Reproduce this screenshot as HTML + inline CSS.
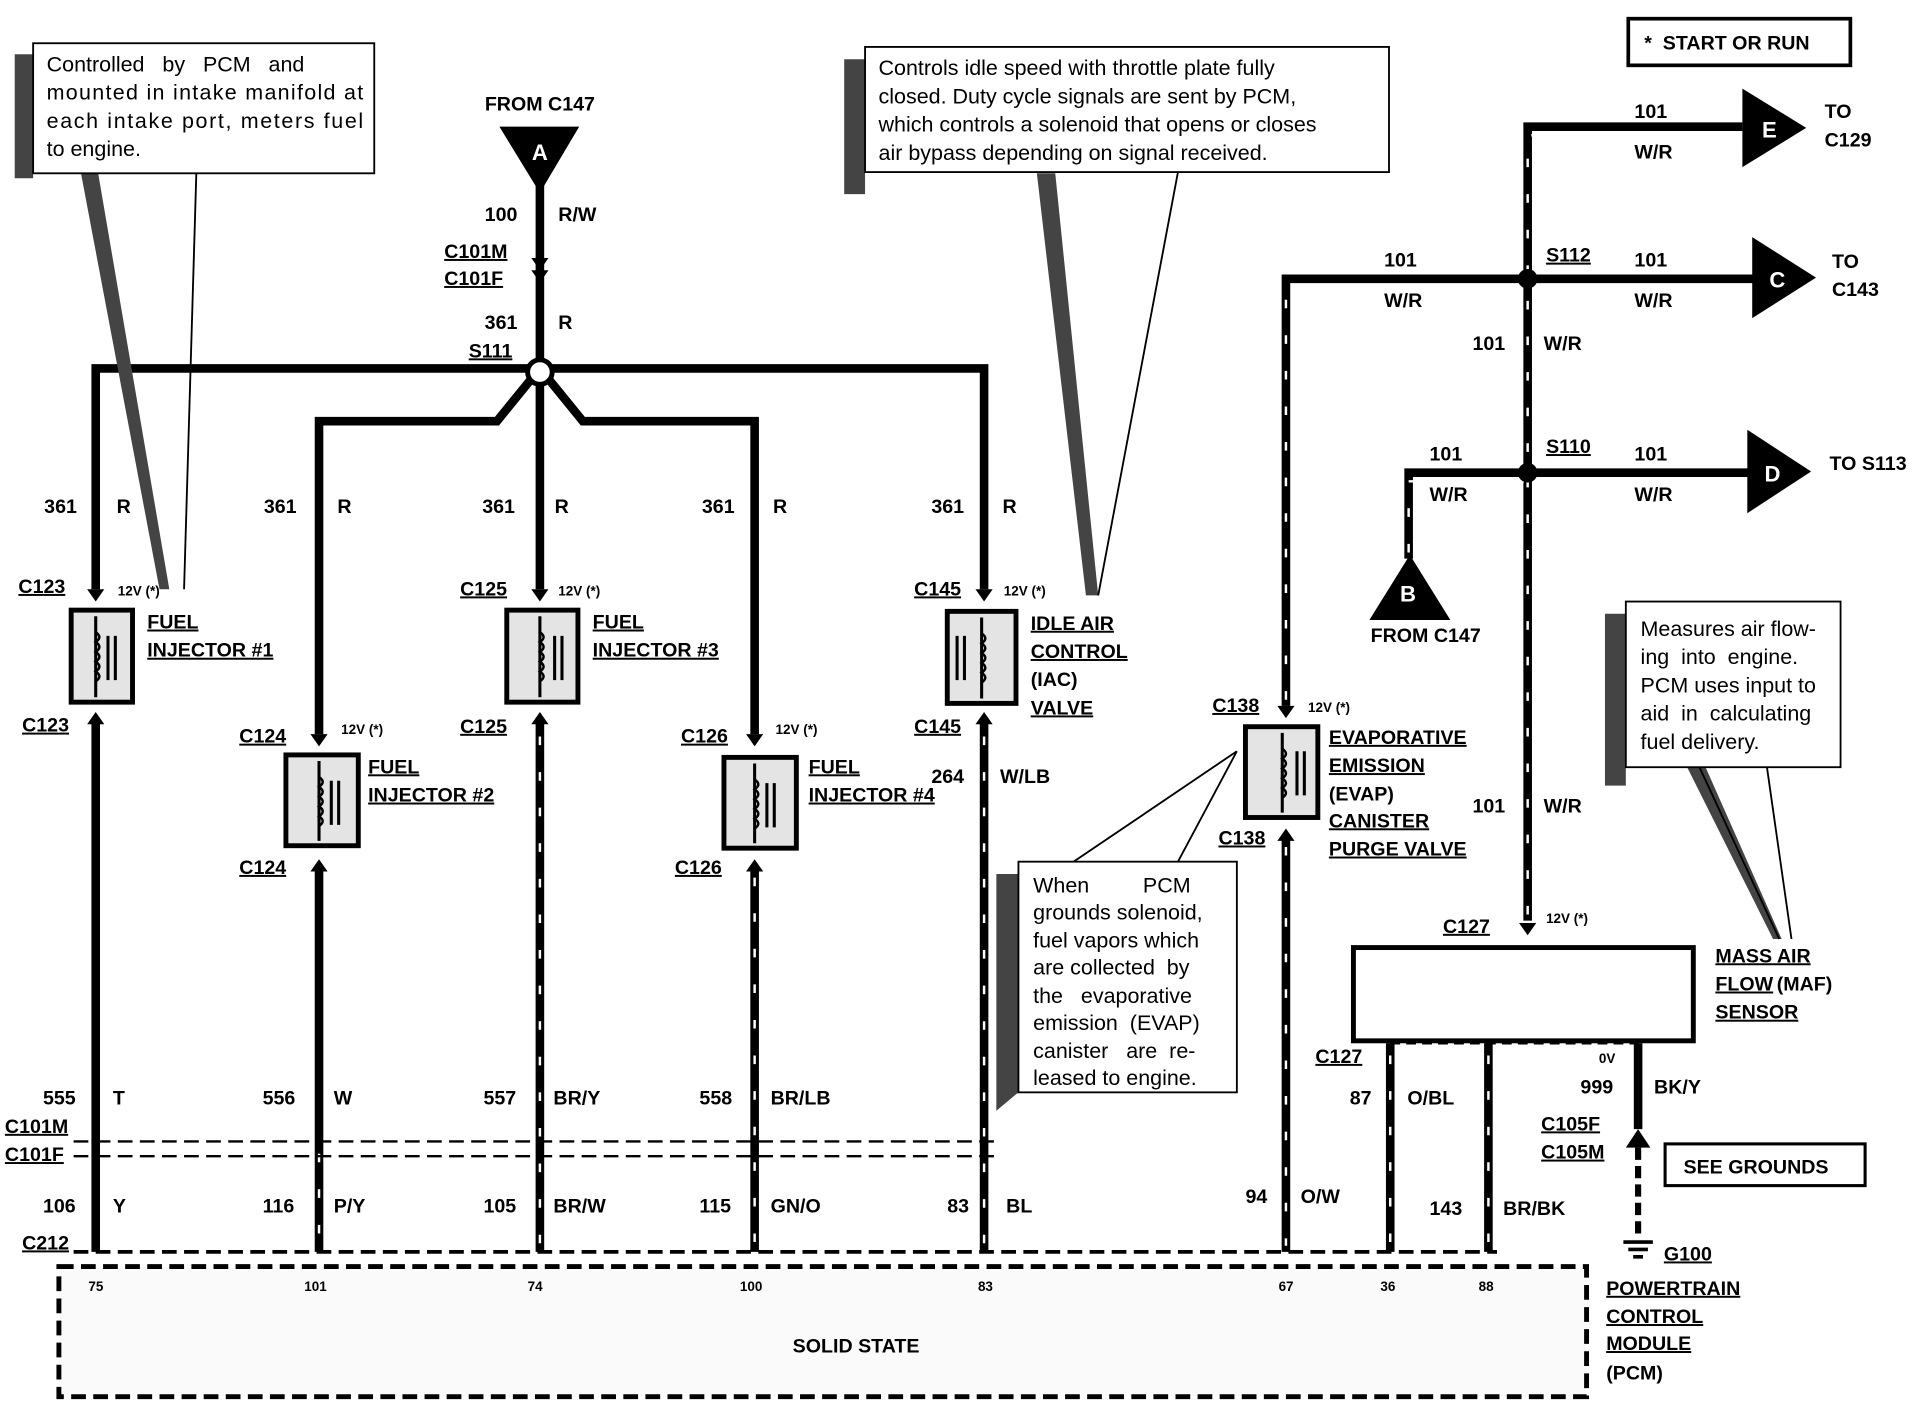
<!DOCTYPE html>
<html><head><meta charset="utf-8"><style>
html,body{margin:0;padding:0;background:#fff}
svg{display:block}
text{font-family:"Liberation Sans",Arial,sans-serif;font-weight:bold;fill:#000}
.l{font-size:16px}
.s{font-size:11px}
.u{text-decoration:underline}
.n text{font-weight:normal;font-size:17.5px}
.w{stroke:#000;stroke-width:7;fill:none}
.st{stroke:#fff;stroke-width:2;fill:none;stroke-dasharray:7 22}
.d{stroke:#000;stroke-width:3;fill:none;stroke-dasharray:12 6}
</style></head><body>
<svg width="1924" height="1408" viewBox="0 0 1568 1147" xmlns="http://www.w3.org/2000/svg">
<path class="w" d="M78 480V300H802V480"/>
<path class="w" d="M440 140V480"/>
<path class="w" d="M440 300L405 343H260V598"/>
<path class="w" d="M440 300L475 343H615V598"/>
<circle cx="440" cy="303" r="10" fill="#fff" stroke="#000" stroke-width="4"/>
<polygon points="407,103 472,103 440,157" fill="#000"/>
<text x="440" y="130" text-anchor="middle" style="fill:#fff;font-size:18px">A</text>
<text x="440" y="90" text-anchor="middle" class="l">FROM C147</text>
<text x="395" y="180" class="l">100</text><text x="455" y="180" class="l">R/W</text>
<text x="362" y="210" class="l u">C101M</text><text x="362" y="232" class="l u">C101F</text>
<text x="395" y="268" class="l">361</text><text x="455" y="268" class="l">R</text>
<text x="382" y="291" class="l u">S111</text>
<path class="w" d="M78 585V1020M260 705V1020M440 585V1020M615 705V1020M802 585V1020"/>
<path class="st" d="M440 600V1015M615 715V1015M802 600V1015"/>
<path class="st" d="M260 940V1015"/>
<g class="l">
<text x="36" y="418">361</text><text x="95" y="418">R</text>
<text x="215" y="418">361</text><text x="275" y="418">R</text>
<text x="393" y="418">361</text><text x="452" y="418">R</text>
<text x="572" y="418">361</text><text x="630" y="418">R</text>
<text x="759" y="418">361</text><text x="817" y="418">R</text>
<text x="35" y="900">555</text><text x="92" y="900">T</text>
<text x="214" y="900">556</text><text x="272" y="900">W</text>
<text x="394" y="900">557</text><text x="451" y="900">BR/Y</text>
<text x="570" y="900">558</text><text x="628" y="900">BR/LB</text>
<text x="35" y="988">106</text><text x="92" y="988">Y</text>
<text x="214" y="988">116</text><text x="272" y="988">P/Y</text>
<text x="394" y="988">105</text><text x="451" y="988">BR/W</text>
<text x="570" y="988">115</text><text x="628" y="988">GN/O</text>
<text x="772" y="988">83</text><text x="820" y="988">BL</text>
<text x="759" y="638">264</text><text x="815" y="638">W/LB</text>
<text x="4" y="923" class="u">C101M</text><text x="4" y="946" class="u">C101F</text>
<text x="18" y="1018" class="u">C212</text>
<text x="15" y="483" class="u">C123</text><text x="18" y="596" class="u">C123</text>
<text x="195" y="605" class="u">C124</text><text x="195" y="712" class="u">C124</text>
<text x="375" y="485" class="u">C125</text><text x="375" y="597" class="u">C125</text>
<text x="555" y="605" class="u">C126</text><text x="550" y="712" class="u">C126</text>
<text x="745" y="485" class="u">C145</text><text x="745" y="597" class="u">C145</text>
<text x="120" y="512" class="u">FUEL</text><text x="120" y="535" class="u">INJECTOR #1</text>
<text x="300" y="630" class="u">FUEL</text><text x="300" y="653" class="u">INJECTOR #2</text>
<text x="483" y="512" class="u">FUEL</text><text x="483" y="535" class="u">INJECTOR #3</text>
<text x="659" y="630" class="u">FUEL</text><text x="659" y="653" class="u">INJECTOR #4</text>
<text x="840" y="513" class="u">IDLE AIR</text><text x="840" y="536" class="u">CONTROL</text><text x="840" y="559">(IAC)</text><text x="840" y="582" class="u">VALVE</text>
</g>
<g class="s"><text x="96" y="485">12V (*)</text><text x="278" y="598">12V (*)</text><text x="455" y="485">12V (*)</text><text x="632" y="598">12V (*)</text><text x="818" y="485">12V (*)</text><text x="1066" y="580">12V (*)</text><text x="1260" y="752">12V (*)</text><text x="1303" y="866">0V</text></g>
<g stroke="#000" stroke-width="4" fill="#e4e4e4">
<rect x="58" y="497" width="50" height="75"/><rect x="233" y="615" width="59" height="74"/><rect x="413" y="497" width="58" height="75"/><rect x="590" y="617" width="59" height="74"/><rect x="772" y="498" width="56" height="75"/><rect x="1015" y="592" width="59" height="74"/>
</g>
<g stroke="#000" stroke-width="2.5" fill="none">
<path d="M78 502V568M260 620V685M440 502V568M615 622V687M800 503V569M1045 597V662"/>
<path d="M88 518v36M94 518v36M270 636v36M276 636v36M452 518v36M458 518v36M625 638v36M631 638v36M780 518v36M786 518v36M1057 612v36M1063 612v36"/>
</g>
<g stroke="#000" stroke-width="2" fill="none">
<path d="M78 515q6 4 0 8q6 4 0 8q6 4 0 8q6 4 0 8q6 4 0 8"/>
<path d="M260 633q6 4 0 8q6 4 0 8q6 4 0 8q6 4 0 8q6 4 0 8"/>
<path d="M440 515q6 4 0 8q6 4 0 8q6 4 0 8q6 4 0 8q6 4 0 8"/>
<path d="M615 635q6 4 0 8q6 4 0 8q6 4 0 8q6 4 0 8q6 4 0 8"/>
<path d="M800 516q6 4 0 8q6 4 0 8q6 4 0 8q6 4 0 8q6 4 0 8"/>
<path d="M1045 610q6 4 0 8q6 4 0 8q6 4 0 8q6 4 0 8q6 4 0 8"/>
</g>
<g fill="#000"><path d="M71 480h14l-7 10zM253 598h14l-7 10zM433 480h14l-7 10zM608 598h14l-7 10zM795 480h14l-7 10zM1041 575h14l-7 10zM1238 752h14l-7 10z"/>
<path d="M71 590h14l-7-10zM253 710h14l-7-10zM433 590h14l-7-10zM608 710h14l-7-10zM795 590h14l-7-10zM1041 685h14l-7-10zM433 210h14l-7 10zM433 220h14l-7 10z"/></g>
<path class="d" d="M60 930H815M60 942H815" style="stroke-width:2"/>
<path class="d" d="M60 1020H1220"/>
<rect x="48" y="1032" width="1245" height="106" fill="#fafafa" stroke="#000" stroke-width="4" stroke-dasharray="12 6"/>
<g style="font-size:11px">
<text x="72" y="1052" font-weight="normal">75</text><text x="248" y="1052" font-weight="normal">101</text><text x="430" y="1052" font-weight="normal">74</text><text x="603" y="1052" font-weight="normal">100</text><text x="797" y="1052" font-weight="normal">83</text><text x="1042" y="1052" font-weight="normal">67</text><text x="1125" y="1052" font-weight="normal">36</text><text x="1205" y="1052" font-weight="normal">88</text></g>
<text x="646" y="1102" class="l">SOLID STATE</text>
<g class="l u"><text x="1309" y="1055">POWERTRAIN</text><text x="1309" y="1078">CONTROL</text><text x="1309" y="1100">MODULE</text></g>
<text x="1309" y="1124" class="l">(PCM)</text>
<path class="w" d="M1245 750V103H1420M1048 575V227H1430M1148 455V385H1425M1048 680V1020M1133 850V1020M1213 850V1020M1335 850V920"/>
<path class="st" d="M1245 745V110H1415M1048 570V234H1425M1148 450V392H1420M1048 690V1015M1133 860V1015M1213 860V1015"/>
<circle cx="1245" cy="227" r="8" fill="#000"/><circle cx="1245" cy="385" r="8" fill="#000"/>
<polygon points="1420,72 1420,136 1472,104" fill="#000"/><text x="1436" y="112" style="fill:#fff;font-size:18px">E</text>
<polygon points="1428,193 1428,259 1480,226" fill="#000"/><text x="1442" y="234" style="fill:#fff;font-size:18px">C</text>
<polygon points="1424,350 1424,418 1476,384" fill="#000"/><text x="1438" y="392" style="fill:#fff;font-size:18px">D</text>
<polygon points="1149,452 1116,505 1182,505" fill="#000"/><text x="1141" y="490" style="fill:#fff;font-size:18px">B</text>
<g class="l">
<text x="1487" y="96">TO</text><text x="1487" y="119">C129</text>
<text x="1493" y="218">TO</text><text x="1493" y="241">C143</text>
<text x="1491" y="383">TO S113</text>
<text x="1117" y="523">FROM C147</text>
<text x="1332" y="96">101</text><text x="1332" y="129">W/R</text>
<text x="1128" y="217">101</text><text x="1128" y="250">W/R</text>
<text x="1332" y="217">101</text><text x="1332" y="250">W/R</text>
<text x="1260" y="213" class="u">S112</text>
<text x="1200" y="285">101</text><text x="1258" y="285">W/R</text>
<text x="1165" y="375">101</text><text x="1165" y="408">W/R</text>
<text x="1332" y="375">101</text><text x="1332" y="408">W/R</text>
<text x="1260" y="369" class="u">S110</text>
<text x="1200" y="662">101</text><text x="1258" y="662">W/R</text>
<text x="988" y="580" class="u">C138</text><text x="993" y="688" class="u">C138</text>
<text x="1083" y="606" class="u">EVAPORATIVE</text><text x="1083" y="629" class="u">EMISSION</text><text x="1083" y="652">(EVAP)</text><text x="1083" y="674" class="u">CANISTER</text><text x="1083" y="697" class="u">PURGE VALVE</text>
<text x="1176" y="760" class="u">C127</text><text x="1072" y="866" class="u">C127</text>
<text x="1398" y="784" class="u">MASS AIR</text><text x="1398" y="807" class="u">FLOW</text><text x="1448" y="807">(MAF)</text><text x="1398" y="830" class="u">SENSOR</text>
<text x="1100" y="900">87</text><text x="1147" y="900">O/BL</text>
<text x="1015" y="980">94</text><text x="1060" y="980">O/W</text>
<text x="1165" y="990">143</text><text x="1225" y="990">BR/BK</text>
<text x="1288" y="891">999</text><text x="1348" y="891">BK/Y</text>
<text x="1256" y="921" class="u">C105F</text><text x="1256" y="944" class="u">C105M</text>
<text x="1356" y="1027" class="u">G100</text>
<text x="1372" y="956">SEE GROUNDS</text>
<text x="1340" y="40">*&#160; START OR RUN</text>
</g>
<rect x="1103" y="772" width="277" height="76" fill="#fff" stroke="#000" stroke-width="4"/>
<path d="M1133 850H1335" stroke="#000" stroke-width="2" stroke-dasharray="8 5"/>
<polygon points="1325,935 1345,935 1335,920" fill="#000"/>
<path d="M1335 935V1005" stroke="#000" stroke-width="5" stroke-dasharray="10 5"/>
<path d="M1323 1012h24M1327 1018h16M1331 1024h8" stroke="#000" stroke-width="3"/>
<rect x="1357" y="932" width="163" height="34" fill="none" stroke="#000" stroke-width="2.5"/>
<rect x="1327" y="15" width="181" height="38" fill="none" stroke="#000" stroke-width="3"/>
<!-- callout shadows -->
<g fill="#444">
<polygon points="12,44 27,44 27,145 12,145"/>
<polygon points="66,141 80,141 138,480 130,480"/>
<polygon points="688,48 705,48 705,158 688,158"/>
<polygon points="845,141 860,141 895,485 885,485"/>
<polygon points="812,712 830,712 830,890 812,905"/>
<polygon points="1308,500 1325,500 1325,640 1308,640"/>
<polygon points="1375,625 1390,625 1452,765 1445,765"/>
</g>
<g fill="#fff" stroke="#000" stroke-width="1.5">
<rect x="27" y="35" width="278" height="106"/>
<rect x="705" y="38" width="427" height="102"/>
<rect x="830" y="702" width="178" height="188"/>
<rect x="1325" y="490" width="175" height="135"/>
</g>
<g stroke="#000" stroke-width="1.5" fill="none">
<path d="M160 141L150 480M960 140L895 485M1008 612L875 702M1008 612L960 702M1385 625L1450 765M1440 625L1460 765"/>
</g>
<g class="n">
<text x="38" y="58">Controlled&#160;&#160; by&#160;&#160; PCM&#160;&#160; and</text>
<text x="38" y="81" textLength="258">mounted in intake manifold at</text>
<text x="38" y="104" textLength="258">each intake port, meters fuel</text>
<text x="38" y="127">to engine.</text>
<text x="716" y="61">Controls idle speed with throttle plate fully</text>
<text x="716" y="84">closed. Duty cycle signals are sent by PCM,</text>
<text x="716" y="107">which controls a solenoid that opens or closes</text>
<text x="716" y="130">air bypass depending on signal received.</text>
<text x="842" y="727">When&#160;&#160;&#160;&#160;&#160;&#160;&#160;&#160; PCM</text>
<text x="842" y="749">grounds solenoid,</text>
<text x="842" y="772">fuel vapors which</text>
<text x="842" y="794">are collected&#160; by</text>
<text x="842" y="817">the&#160;&#160; evaporative</text>
<text x="842" y="839">emission&#160; (EVAP)</text>
<text x="842" y="862">canister&#160;&#160; are&#160; re-</text>
<text x="842" y="884">leased to engine.</text>
<text x="1337" y="518">Measures air flow-</text>
<text x="1337" y="541">ing&#160; into&#160; engine.</text>
<text x="1337" y="564">PCM uses input to</text>
<text x="1337" y="587">aid&#160; in&#160; calculating</text>
<text x="1337" y="610">fuel delivery.</text>
</g>
</svg>
</body></html>
